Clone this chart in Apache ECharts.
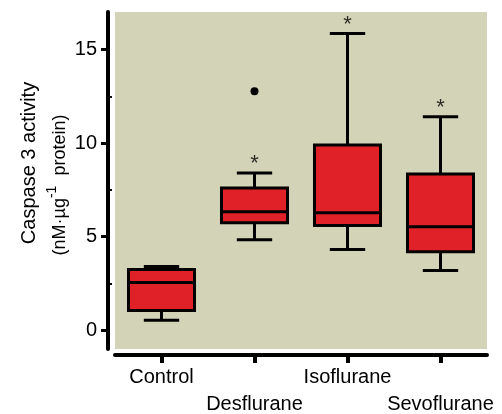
<!DOCTYPE html>
<html>
<head>
<meta charset="utf-8">
<script src="https://cdn.jsdelivr.net/npm/echarts@6/dist/echarts.min.js"></script>
<style>
  html, body { margin: 0; padding: 0; background: #fff; }
  #chart { width: 502px; height: 414px; }
</style>
</head>
<body>
<div id="chart"></div>
<script>
const categories = ['Control', 'Desflurane', 'Isoflurane', 'Sevoflurane']
const whiskerLow = [0.53, 4.84, 4.31, 3.19]
const quartile1 = [1.06, 5.74, 5.59, 4.2]
const median = [2.55, 6.33, 6.28, 5.53]
const quartile3 = [3.24, 7.6, 9.9, 8.35]
const whiskerHigh = [3.4, 8.4, 15.85, 11.4]
const outliers = [[1, 12.77]]
const significant = [1, 2, 3]
const yTicks = [0, 5, 10, 15]
const yMinorTicks = [2.5, 7.5, 12.5]

const FONT = '"Liberation Sans", Arial, sans-serif'
const Y_MIN = -1
const Y_MAX = 17

const boxData = categories.map((c, i) => [i, whiskerLow[i], quartile1[i], median[i], quartile3[i], whiskerHigh[i]])
const starData = significant.map(i => [i, whiskerHigh[i]])

function renderBox(params, api) {
  const idx = api.value(0)
  const band = api.size([1, 0])[0]
  const boxW = band * 0.71
  const capW = band * 0.38
  const pLow = api.coord([idx, api.value(1)])
  const pQ1 = api.coord([idx, api.value(2)])
  const pMed = api.coord([idx, api.value(3)])
  const pQ3 = api.coord([idx, api.value(4)])
  const pHigh = api.coord([idx, api.value(5)])
  const x = pMed[0]
  const line = { stroke: '#000', lineWidth: 3 }
  return {
    type: 'group',
    children: [
      { type: 'line', shape: { x1: x, y1: pHigh[1], x2: x, y2: pQ3[1] }, style: line },
      { type: 'line', shape: { x1: x, y1: pQ1[1], x2: x, y2: pLow[1] }, style: line },
      { type: 'line', shape: { x1: x - capW / 2, y1: pHigh[1], x2: x + capW / 2, y2: pHigh[1] }, style: line },
      { type: 'line', shape: { x1: x - capW / 2, y1: pLow[1], x2: x + capW / 2, y2: pLow[1] }, style: line },
      {
        type: 'rect',
        shape: { x: x - boxW / 2, y: pQ3[1], width: boxW, height: pQ1[1] - pQ3[1] },
        style: { fill: '#E02128', stroke: '#000', lineWidth: 3 }
      },
      { type: 'line', shape: { x1: x - boxW / 2, y1: pMed[1], x2: x + boxW / 2, y2: pMed[1] }, style: line }
    ]
  }
}

// plot area geometry
const gridTop = 12
const gridBottom = 65
const plotH = 414 - gridTop - gridBottom
const tickMin = yTicks[0]
const tickMax = yTicks[yTicks.length - 1]
// second grid spans exactly 0..15 so its own interval-5 ticks fall on 0, 5, 10, 15
const tickGridTop = gridTop + plotH * (Y_MAX - tickMax) / (Y_MAX - Y_MIN)
const tickGridBottom = gridBottom + plotH * (tickMin - Y_MIN) / (Y_MAX - Y_MIN)

const chart = echarts.init(document.getElementById('chart'), null, { renderer: 'canvas' })
chart.setOption({
  animation: false,
  textStyle: { fontFamily: FONT },
  grid: [
    {
      left: 115,
      right: 15,
      top: gridTop,
      bottom: gridBottom,
      containLabel: false,
      outerBoundsMode: 'none',
      show: true,
      backgroundColor: '#D3D4B7',
      borderWidth: 0
    },
    {
      left: 115,
      right: 15,
      top: tickGridTop,
      bottom: tickGridBottom,
      containLabel: false,
      outerBoundsMode: 'none',
      show: false
    }
  ],
  xAxis: [
    {
      type: 'category',
      gridIndex: 0,
      data: categories,
      boundaryGap: true,
      offset: 6,
      axisLine: { show: true, onZero: false, lineStyle: { color: '#000', width: 4 } },
      axisTick: { show: true, alignWithLabel: true, length: 8, lineStyle: { color: '#000', width: 4 } },
      axisLabel: {
        interval: 0,
        color: '#000',
        fontSize: 20,
        fontFamily: FONT,
        margin: 9,
        lineHeight: 27,
        formatter: (v, i) => (i % 2 ? '\n' + v : v)
      },
      splitLine: { show: false }
    },
    {
      type: 'value',
      gridIndex: 1,
      show: false
    }
  ],
  yAxis: [
    {
      type: 'value',
      gridIndex: 0,
      min: Y_MIN,
      max: Y_MAX,
      offset: 7,
      axisLine: { show: true, onZero: false, lineStyle: { color: '#000', width: 4 } },
      axisTick: { show: false },
      axisLabel: { customValues: yTicks, color: '#000', fontSize: 20, fontFamily: FONT, margin: 11 },
      splitLine: { show: false }
    },
    {
      type: 'value',
      gridIndex: 0,
      min: Y_MIN,
      max: Y_MAX,
      position: 'left',
      offset: 7,
      axisLine: { show: false },
      axisTick: { show: true, customValues: yMinorTicks, inside: true, length: 4, lineStyle: { color: '#000', width: 2 } },
      axisLabel: { show: false, customValues: yMinorTicks },
      splitLine: { show: false }
    },
    {
      type: 'value',
      gridIndex: 1,
      min: tickMin,
      max: tickMax,
      interval: yTicks[1] - yTicks[0],
      position: 'left',
      offset: 7,
      axisLine: { show: false, onZero: false },
      axisTick: { show: true, length: 7, lineStyle: { color: '#000', width: 3 } },
      axisLabel: { show: false },
      splitLine: { show: false }
    }
  ],
  series: [
    {
      type: 'custom',
      name: 'box',
      renderItem: renderBox,
      encode: { x: 0, y: [1, 2, 3, 4, 5] },
      data: boxData,
      z: 2
    },
    {
      type: 'scatter',
      name: 'outlier',
      data: outliers,
      symbol: 'circle',
      symbolSize: 8,
      itemStyle: { color: '#000', opacity: 1 },
      z: 3
    },
    {
      type: 'scatter',
      name: 'significance',
      data: starData,
      symbolSize: 0,
      silent: true,
      label: {
        show: true,
        position: 'inside',
        offset: [0, -9],
        formatter: '*',
        color: '#000',
        fontSize: 22,
        fontFamily: FONT
      },
      z: 3
    }
  ],
  graphic: [
    {
      type: 'text',
      x: 29,
      y: 163,
      rotation: Math.PI / 2,
      style: {
        text: 'Caspase 3 activity',
        font: '20px ' + FONT,
        fill: '#000',
        align: 'center',
        verticalAlign: 'middle'
      }
    },
    {
      type: 'text',
      x: 57,
      y: 185,
      rotation: Math.PI / 2,
      style: {
        text: '{b|(nM·µg}{s|-1}{b|  protein)}',
        align: 'center',
        verticalAlign: 'middle',
        rich: {
          b: { fontSize: 18, fontFamily: FONT, fill: '#000', lineHeight: 24, verticalAlign: 'bottom' },
          s: { fontSize: 14, fontFamily: FONT, fill: '#000', lineHeight: 24, verticalAlign: 'top' }
        }
      }
    }
  ]
})
</script>
</body>
</html>
